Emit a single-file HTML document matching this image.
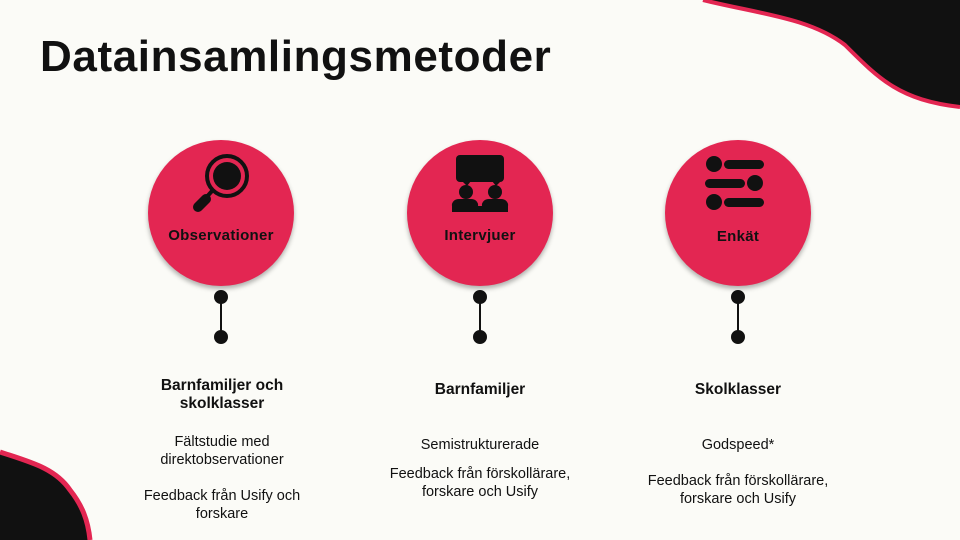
<!DOCTYPE html>
<html><head><meta charset="utf-8"><style>
body{margin:0}
.p{position:relative;width:960px;height:540px;background:#fbfbf7;overflow:hidden;font-family:"Liberation Sans",sans-serif;color:#111}
h1{position:absolute;left:40px;top:32px;margin:0;font-size:44px;font-weight:bold;letter-spacing:0.6px}
.c{position:absolute;width:146px;height:146px;border-radius:50%;background:#e32652;box-shadow:0 3px 5px rgba(0,0,0,.3)}
.lab{position:absolute;width:100%;text-align:center;top:87px;font-weight:bold;font-size:15px;letter-spacing:0.3px}
.t{position:absolute;text-align:center;width:240px;font-size:14.5px;line-height:18px}
.b{font-weight:bold;font-size:15.5px}
</style></head><body><div class="p">
<svg width="960" height="540" style="position:absolute;left:0;top:0">
<path d="M703,0 C760,14 810,18 845,45 C880,80 900,100 960,107 L960,0 Z" fill="#111"/>
<path d="M703,0 C760,14 810,18 845,45 C880,80 900,100 960,107" fill="none" stroke="#e32652" stroke-width="4"/>
<path d="M0,452 C30,462 55,468 70,490 C82,505 88,520 90,540 L0,540 Z" fill="#111"/>
<path d="M0,452 C30,462 55,468 70,490 C82,505 88,520 90,540" fill="none" stroke="#e32652" stroke-width="5"/>
<g fill="#111" stroke="#111" stroke-width="2">
<circle cx="221" cy="297" r="6"/><circle cx="221" cy="337" r="6"/><line x1="221" y1="297" x2="221" y2="337"/>
<circle cx="480" cy="297" r="6"/><circle cx="480" cy="337" r="6"/><line x1="480" y1="297" x2="480" y2="337"/>
<circle cx="738" cy="297" r="6"/><circle cx="738" cy="337" r="6"/><line x1="738" y1="297" x2="738" y2="337"/>
</g>
</svg>
<h1>Datainsamlingsmetoder</h1>
<div class="c" style="left:148px;top:140px"><svg width="146" height="146" style="position:absolute;left:0;top:0">
<circle cx="79" cy="36" r="20" fill="none" stroke="#111" stroke-width="4"/><circle cx="79" cy="36" r="14" fill="#111"/>
<line x1="64" y1="51" x2="56" y2="60" stroke="#111" stroke-width="4"/><line x1="58" y1="59" x2="50" y2="67" stroke="#111" stroke-width="10" stroke-linecap="round"/></svg>
<div class="lab">Observationer</div></div>
<div class="c" style="left:407px;top:140px"><svg width="146" height="146" style="position:absolute;left:0;top:0">
<rect x="49" y="15" width="48" height="27" rx="4" fill="#111"/><path d="M55,41 l5,5 l4,-5z M85,41 l4,5 l5,-5z" fill="#111"/>
<circle cx="59" cy="52" r="7" fill="#111"/><circle cx="88" cy="52" r="7" fill="#111"/>
<path d="M45,72 v-6 a7,6 0 0 1 7,-7 h12 a7,6 0 0 1 7,7 h4 a7,6 0 0 1 7,-7 h12 a7,6 0 0 1 7,7 v6z" fill="#111"/></svg>
<div class="lab">Intervjuer</div></div>
<div class="c" style="left:665px;top:140px"><svg width="146" height="146" style="position:absolute;left:0;top:0">
<g fill="#111"><circle cx="49" cy="24" r="8"/><rect x="59" y="20" width="40" height="9" rx="4.5"/>
<rect x="40" y="39" width="40" height="9" rx="4.5"/><circle cx="90" cy="43" r="8"/>
<circle cx="49" cy="62" r="8"/><rect x="59" y="58" width="40" height="9" rx="4.5"/></g></svg>
<div class="lab" style="top:88px">Enkät</div></div>
<div class="t b" style="left:102px;top:377px">Barnfamiljer och<br>skolklasser</div>
<div class="t" style="left:102px;top:433px">Fältstudie med<br>direktobservationer</div>
<div class="t" style="left:102px;top:487px">Feedback från Usify och<br>forskare</div>
<div class="t b" style="left:360px;top:381px">Barnfamiljer</div>
<div class="t" style="left:360px;top:436px">Semistrukturerade</div>
<div class="t" style="left:340px;width:280px;top:465px">Feedback från förskollärare,<br>forskare och Usify</div>
<div class="t b" style="left:618px;top:381px">Skolklasser</div>
<div class="t" style="left:618px;top:436px">Godspeed*</div>
<div class="t" style="left:598px;width:280px;top:472px">Feedback från förskollärare,<br>forskare och Usify</div>
</div></body></html>
